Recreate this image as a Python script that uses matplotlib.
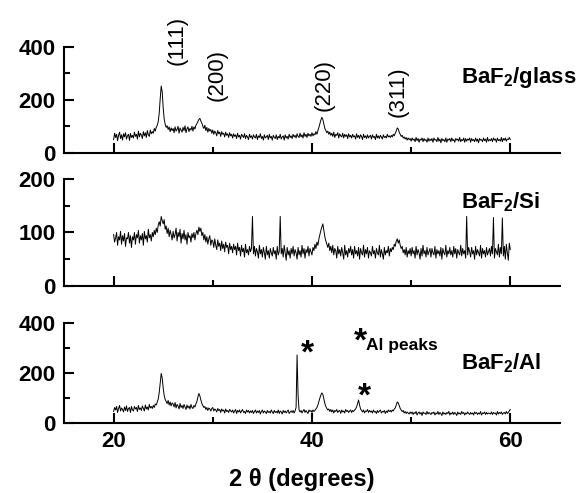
import numpy as np
import matplotlib
matplotlib.use('Agg')
import matplotlib.pyplot as plt
from matplotlib.ticker import MultipleLocator

plt.rcParams['font.family'] = ['Liberation Sans', 'DejaVu Sans']
plt.rcParams['mathtext.fontset'] = 'custom'
plt.rcParams['mathtext.rm'] = 'Liberation Sans'
plt.rcParams['mathtext.bf'] = 'Liberation Sans:bold'
plt.rcParams['mathtext.default'] = 'regular'

# 2theta grid, 0.1 degree step, 20..60
two_theta = [20 + 0.1 * i for i in range(401)]

glass = [50, 74, 58, 70, 46, 66, 78, 54, 68, 48, 72, 60, 76, 52, 64, 70, 47, 73, 58, 66,
         56, 78, 62, 70, 52, 82, 60, 74, 66, 54, 80, 64, 76, 58, 84, 68, 62, 86, 72, 80,
         74, 92, 82, 96, 104, 118, 150, 205, 252, 230, 170, 128, 108, 96, 102, 88, 98, 80, 94, 84,
         92, 76, 98, 82, 88, 100, 74, 94, 86, 78, 96, 84, 102, 76, 90, 98, 80, 92, 86, 100,
         82, 98, 90, 104, 110, 118, 126, 130, 120, 112, 100, 92, 104, 84, 96, 78, 92, 82, 88, 74,
         86, 70, 82, 76, 64, 84, 72, 78, 62, 80, 70, 74, 60, 78, 66, 72, 58, 76, 64, 70,
         56, 72, 62, 68, 54, 74, 60, 66, 52, 70, 64, 58, 72, 54, 66, 60, 50, 70, 58, 64,
         52, 68, 60, 56, 70, 50, 64, 58, 72, 54, 62, 48, 68, 56, 60, 66, 50, 70, 56, 62,
         48, 66, 58, 54, 68, 50, 62, 56, 70, 52, 60, 64, 48, 68, 56, 62, 52, 70, 58, 64,
         54, 70, 60, 66, 56, 72, 62, 58, 74, 60, 68, 56, 76, 62, 70, 58, 74, 64, 70, 62,
         76, 64, 72, 68, 80, 70, 84, 96, 110, 124, 134, 126, 108, 92, 84, 76, 82, 70, 78, 66,
         74, 62, 78, 58, 70, 66, 76, 56, 72, 64, 60, 74, 56, 70, 62, 68, 54, 72, 60, 66,
         56, 70, 60, 64, 52, 72, 58, 66, 54, 68, 62, 50, 70, 58, 64, 54, 68, 56, 62, 66,
         52, 68, 58, 62, 50, 70, 56, 64, 54, 66, 60, 52, 68, 58, 62, 56, 70, 60, 64, 58,
         66, 60, 70, 64, 74, 82, 94, 90, 78, 70, 62, 66, 56, 60, 52, 58, 48, 56, 50, 54,
         44, 56, 48, 52, 42, 58, 46, 54, 40, 52, 48, 56, 42, 54, 46, 50, 40, 56, 44, 52,
         46, 54, 40, 56, 48, 50, 42, 58, 44, 52, 38, 54, 46, 50, 42, 56, 40, 52, 48, 54,
         42, 56, 46, 50, 40, 54, 48, 52, 44, 58, 42, 50, 46, 56, 40, 54, 44, 52, 48, 56,
         40, 54, 46, 50, 42, 56, 44, 52, 38, 54, 48, 50, 42, 56, 46, 52, 40, 58, 44, 50,
         46, 54, 42, 56, 48, 52, 40, 56, 46, 50, 44, 58, 42, 54, 48, 56, 44, 52, 50, 58,
         50]

si = [96, 82, 90, 100, 76, 92, 86, 102, 78, 94, 84, 98, 74, 90, 88, 100, 80, 94, 72, 92,
      86, 100, 78, 96, 90, 104, 80, 94, 86, 98, 76, 102, 88, 94, 82, 106, 90, 96, 84, 100,
      92, 104, 96, 108, 100, 114, 120, 112, 130, 122, 116, 124, 106, 112, 98, 108, 92, 104, 96, 86,
      102, 90, 96, 108, 84, 100, 92, 106, 80, 98, 88, 104, 86, 96, 78, 100, 90, 94, 82, 98,
      90, 100, 86, 98, 104, 96, 110, 102, 108, 94, 100, 86, 96, 82, 92, 78, 88, 94, 76, 86,
      84, 72, 88, 76, 68, 86, 74, 80, 66, 84, 70, 78, 64, 82, 72, 76, 60, 80, 68, 74,
      62, 78, 68, 74, 58, 80, 66, 72, 56, 76, 64, 70, 54, 78, 62, 68, 58, 74, 64, 70,
      130, 60, 74, 56, 70, 64, 52, 76, 60, 68, 54, 72, 62, 50, 74, 58, 66, 52, 70, 62,
      56, 72, 60, 66, 50, 74, 58, 64, 130, 60, 70, 54, 76, 62, 48, 72, 58, 66, 52, 70,
      60, 74, 56, 68, 62, 50, 72, 58, 66, 54, 76, 60, 70, 52, 68, 62, 74, 56, 70, 64,
      58, 72, 66, 78, 70, 82, 76, 88, 96, 104, 110, 116, 104, 92, 84, 78, 72, 80, 66, 74,
      62, 76, 58, 70, 66, 52, 74, 60, 68, 56, 72, 62, 50, 76, 58, 66, 54, 70, 62, 74,
      58, 68, 52, 74, 60, 66, 56, 72, 50, 70, 62, 58, 76, 54, 68, 60, 72, 52, 66, 62,
      56, 74, 60, 66, 52, 70, 62, 58, 76, 54, 68, 60, 50, 72, 58, 66, 62, 74, 56, 70,
      64, 72, 68, 78, 74, 84, 88, 80, 86, 76, 70, 74, 62, 68, 58, 72, 54, 66, 60, 70,
      56, 72, 60, 66, 52, 74, 58, 68, 62, 50, 70, 56, 76, 60, 66, 54, 72, 58, 64, 70,
      54, 70, 62, 58, 74, 52, 68, 60, 66, 56, 72, 50, 70, 62, 58, 76, 54, 66, 60, 72,
      58, 66, 54, 74, 60, 70, 52, 68, 62, 58, 76, 56, 70, 60, 66, 52, 130, 58, 72, 64,
      54, 72, 60, 66, 50, 74, 58, 68, 62, 56, 76, 52, 70, 60, 66, 54, 72, 58, 64, 70,
      56, 74, 60, 128, 52, 70, 64, 58, 78, 54, 72, 60, 127, 56, 74, 50, 78, 62, 48, 80,
      68]

al = [46, 62, 52, 66, 42, 58, 70, 48, 60, 54, 44, 64, 50, 68, 46, 58, 62, 42, 66, 52,
      48, 66, 56, 62, 46, 70, 54, 60, 50, 68, 58, 48, 72, 56, 64, 52, 74, 60, 66, 58,
      70, 62, 76, 72, 84, 96, 122, 160, 198, 180, 140, 110, 94, 86, 78, 90, 72, 84, 68, 80,
      76, 64, 82, 60, 74, 68, 56, 78, 62, 70, 58, 74, 64, 54, 72, 60, 68, 56, 74, 62,
      58, 70, 64, 76, 86, 104, 118, 108, 92, 78, 70, 62, 66, 54, 62, 50, 60, 56, 48, 58,
      62, 48, 56, 52, 44, 58, 50, 54, 42, 56, 48, 52, 40, 56, 46, 50, 42, 54, 48, 44,
      52, 40, 48, 54, 38, 50, 44, 52, 40, 48, 54, 42, 46, 38, 52, 44, 50, 40, 48, 42,
      50, 38, 46, 52, 40, 48, 42, 50, 36, 46, 52, 40, 48, 44, 38, 50, 42, 46, 40, 52,
      44, 38, 50, 42, 46, 40, 52, 38, 48, 44, 36, 50, 42, 48, 40, 46, 52, 38, 44, 48,
      42, 50, 40, 48, 62, 272, 110, 52, 44, 50, 40, 48, 54, 42, 50, 44, 38, 52, 46, 50,
      42, 52, 46, 50, 56, 62, 72, 86, 100, 112, 120, 114, 96, 78, 66, 58, 52, 56, 46, 54,
      44, 52, 40, 50, 46, 54, 42, 48, 50, 38, 52, 44, 48, 40, 54, 46, 50, 42, 48, 52,
      42, 50, 46, 52, 56, 64, 78, 92, 72, 56, 50, 44, 52, 40, 48, 46, 54, 42, 50, 44,
      48, 40, 52, 44, 46, 38, 50, 42, 48, 52, 40, 46, 44, 50, 38, 48, 42, 52, 46, 50,
      44, 52, 48, 56, 60, 72, 84, 80, 70, 58, 52, 46, 50, 40, 46, 38, 44, 40, 36, 44,
      38, 44, 34, 42, 38, 46, 32, 40, 44, 36, 42, 30, 44, 38, 40, 34, 46, 36, 42, 38,
      34, 42, 38, 44, 32, 40, 36, 46, 34, 42, 38, 30, 44, 36, 40, 34, 42, 38, 46, 32,
      40, 36, 44, 34, 42, 38, 30, 44, 36, 40, 34, 46, 38, 42, 32, 40, 36, 44, 38, 34,
      42, 36, 40, 32, 44, 38, 42, 34, 40, 36, 46, 32, 40, 38, 44, 34, 42, 36, 40, 38,
      36, 44, 34, 42, 38, 40, 32, 46, 36, 42, 38, 44, 34, 40, 42, 36, 46, 38, 42, 48,
      54]

series = [glass, si, al]
names = [r'BaF$_2$/glass', r'BaF$_2$/Si', r'BaF$_2$/Al']
name_y = [283, 157, 240]
ylims = [400, 200, 400]
ymajor = [200, 100, 200]

hkl = ['(111)', '(200)', '(220)', '(311)']
hkl_x = [26.4, 30.4, 41.2, 48.7]
hkl_y = [426, 294, 256, 230]

fig = plt.figure(figsize=(5.82, 4.93), dpi=100)
boxes = [[0.110, 0.690, 0.852, 0.215],
         [0.110, 0.420, 0.852, 0.217],
         [0.110, 0.142, 0.852, 0.203]]

axes = []
for i, box in enumerate(boxes):
    ax = fig.add_axes(box)
    ax.plot(two_theta, series[i], color='black', lw=0.7)
    ax.set_xlim(15, 65)
    ax.set_ylim(0, ylims[i])
    ax.xaxis.set_major_locator(MultipleLocator(20))
    ax.xaxis.set_minor_locator(MultipleLocator(10))
    ax.yaxis.set_major_locator(MultipleLocator(ymajor[i]))
    ax.yaxis.set_minor_locator(MultipleLocator(ymajor[i] / 2))
    for s in ['top', 'right']:
        ax.spines[s].set_visible(False)
    for s in ['left', 'bottom']:
        ax.spines[s].set_linewidth(1.5)
    ax.tick_params(which='major', direction='in', length=7, width=1.5,
                   labelsize=16, pad=6)
    ax.tick_params(which='minor', direction='in', length=4, width=1.5)
    for lab in ax.get_yticklabels():
        lab.set_fontweight('bold')
    if i < 2:
        ax.tick_params(axis='x', labelbottom=False)
    else:
        for lab in ax.get_xticklabels():
            lab.set_fontweight('bold')
    ax.text(55, name_y[i], names[i], fontsize=16, fontweight='bold',
            va='center', ha='left', clip_on=False)
    axes.append(ax)

for lab, x, y in zip(hkl, hkl_x, hkl_y):
    axes[0].text(x, y, lab, rotation=90, fontsize=16, ha='center',
                 va='center', clip_on=False)

ax = axes[2]
ax.text(39.5, 276, '*', fontsize=24, fontweight='bold', ha='center', va='center')
ax.text(45.25, 104, '*', fontsize=24, fontweight='bold', ha='center', va='center')
ax.text(44.85, 325, '*', fontsize=24, fontweight='bold', ha='center', va='center')
ax.text(45.4, 308, 'Al peaks', fontsize=12.5, fontweight='bold', ha='left', va='center')
ax.set_xlabel('2 θ (degrees)', fontsize=17, fontweight='bold')
ax.xaxis.set_label_coords(0.48, -0.45)

fig.savefig('out.png', dpi=100)
